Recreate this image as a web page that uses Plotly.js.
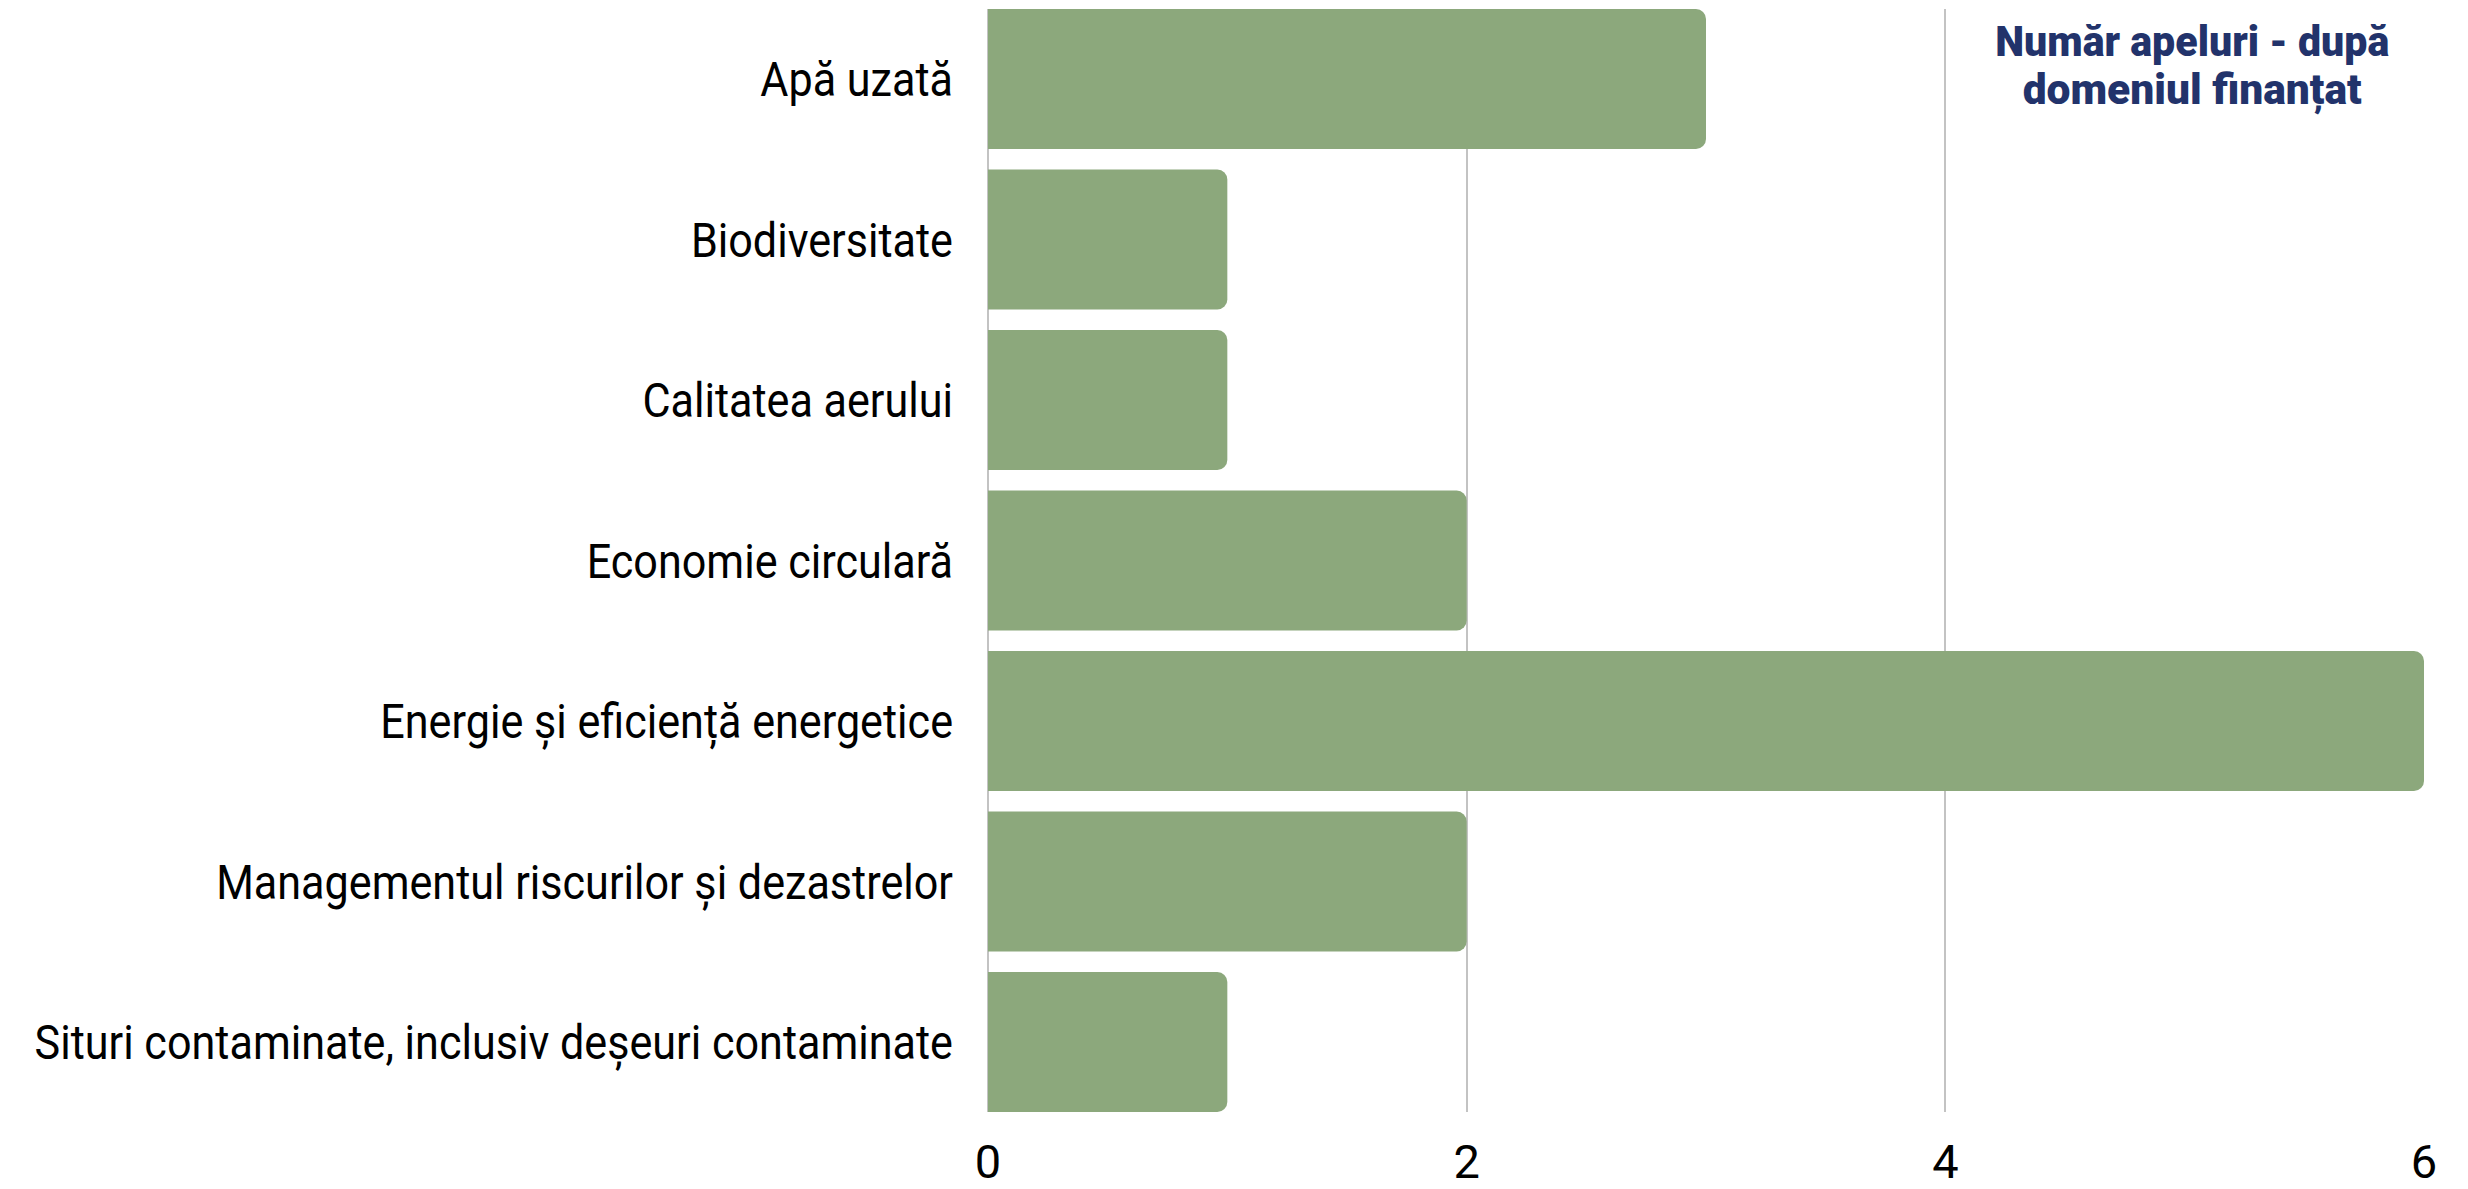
<!DOCTYPE html>
<html>
<head>
<meta charset="utf-8">
<script src="https://cdn.plot.ly/plotly-3.0.1.min.js"></script>
<style>
  html, body { margin: 0; padding: 0; background: #ffffff; }
  #chart { width: 2468px; height: 1189px; }
</style>
</head>
<body>
<div id="chart"></div>
<script>
const categories = [
  "Apă uzată",
  "Biodiversitate",
  "Calitatea aerului",
  "Economie circulară",
  "Energie și eficiență energetice",
  "Managementul riscurilor și dezastrelor",
  "Situri contaminate, inclusiv deșeuri contaminate"
];
const values = [3, 1, 1, 2, 6, 2, 1];
const xTicks = [0, 2, 4, 6];
const titleLines = ["Număr apeluri - după", "domeniul finanțat"];

const FONT = "Roboto, 'Noto Sans', sans-serif";
const gap = 0.128;
const LABEL_SQUEEZE = 0.88;      // condensed look for category labels
const TITLE_WIDTHS = [394, 339]; // condensed look for title lines

const trace = {
  type: "bar",
  orientation: "h",
  y: categories,
  x: values,
  marker: { color: "#8CA87C", cornerradius: 10, line: { width: 0 } },
  hoverinfo: "skip"
};

const plotW = 2468 - 988 - 44;
const layout = {
  width: 2468,
  height: 1189,
  margin: { l: 988, r: 44, t: 9, b: 77, pad: 0 },
  paper_bgcolor: "#ffffff",
  plot_bgcolor: "#ffffff",
  bargap: gap,
  showlegend: false,
  font: { family: FONT, color: "#000000", size: 48 },
  xaxis: {
    range: [0, 6],
    tickmode: "array",
    tickvals: xTicks,
    ticktext: xTicks.map(String),
    showgrid: true,
    gridcolor: "#C3C3C3",
    gridwidth: 2,
    zeroline: true,
    zerolinecolor: "#C3C3C3",
    zerolinewidth: 2,
    showline: false,
    ticks: "",
    ticklabelstandoff: 18,
    tickfont: { family: FONT, size: 47, color: "#000000" },
    fixedrange: true
  },
  yaxis: {
    type: "category",
    categoryorder: "array",
    categoryarray: categories,
    range: [6 + (1 - gap) / 2, -(1 - gap) / 2],
    showgrid: false,
    zeroline: false,
    showline: false,
    ticks: "",
    ticklabelstandoff: 34,
    tickfont: { family: FONT, size: 49, color: "#000000" },
    fixedrange: true
  },
  annotations: titleLines.map((t, i) => ({
    xref: "paper", yref: "paper",
    x: (2192 - 988) / plotW,
    y: 1,
    yshift: i === 0 ? -32 : -81,
    xanchor: "center", yanchor: "middle",
    text: "<b>" + t + "</b>",
    showarrow: false,
    align: "center",
    font: { family: FONT, size: 42, color: "#22336B", weight: 900 }
  }))
};

const gd = document.getElementById("chart");
Plotly.newPlot(gd, [trace], layout, { staticPlot: true, displayModeBar: false }).then(() => {
  gd.querySelectorAll(".ytick text").forEach(t => {
    const w = t.getComputedTextLength();
    t.setAttribute("textLength", (w * LABEL_SQUEEZE).toFixed(1));
    t.setAttribute("lengthAdjust", "spacingAndGlyphs");
  });
  gd.querySelectorAll(".annotation-text").forEach((t, i) => {
    t.setAttribute("textLength", TITLE_WIDTHS[i]);
    t.setAttribute("lengthAdjust", "spacingAndGlyphs");
    t.style.fontWeight = "900";
    t.querySelectorAll("tspan").forEach(s => s.style.fontWeight = "900");
  });
});
</script>
</body>
</html>
